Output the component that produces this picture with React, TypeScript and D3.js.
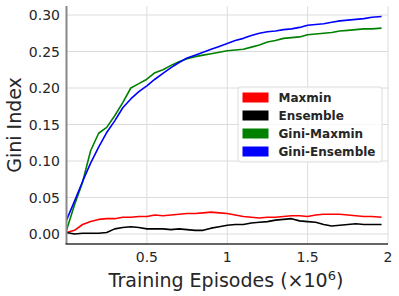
import * as d3 from "d3";

const episodes = [
  0, 0.05, 0.1, 0.15, 0.2, 0.25, 0.3, 0.35, 0.4, 0.45, 0.5, 0.55, 0.6, 0.65, 0.7, 0.75, 0.8, 0.85,
  0.9, 0.95, 1.0, 1.05, 1.1, 1.15, 1.2, 1.25, 1.3, 1.35, 1.4, 1.45, 1.5, 1.55, 1.6, 1.65, 1.7,
  1.75, 1.8, 1.85, 1.9, 1.96,
];

const maxmin = [
  0.002, 0.005, 0.013, 0.017, 0.02, 0.021, 0.021, 0.023, 0.023, 0.024, 0.024, 0.026, 0.025, 0.026,
  0.027, 0.028, 0.028, 0.029, 0.03, 0.029, 0.028, 0.026, 0.024, 0.023, 0.022, 0.023, 0.023, 0.024,
  0.025, 0.025, 0.024, 0.026, 0.027, 0.027, 0.027, 0.026, 0.025, 0.024, 0.024, 0.023,
];

const ensemble = [
  0.002, 0.0, 0.001, 0.001, 0.001, 0.002, 0.007, 0.009, 0.01, 0.009, 0.007, 0.007, 0.007, 0.006,
  0.007, 0.006, 0.005, 0.005, 0.008, 0.01, 0.012, 0.013, 0.013, 0.015, 0.016, 0.017, 0.019, 0.02,
  0.021, 0.018, 0.017, 0.016, 0.013, 0.011, 0.012, 0.013, 0.014, 0.013, 0.013, 0.013,
];

const giniMaxmin = [
  0.005, 0.04, 0.071, 0.114, 0.138, 0.146, 0.162, 0.18, 0.2, 0.206, 0.212, 0.221, 0.225, 0.231,
  0.236, 0.24, 0.243, 0.245, 0.247, 0.249, 0.251, 0.252, 0.253, 0.256, 0.259, 0.263, 0.265, 0.268,
  0.269, 0.27, 0.273, 0.274, 0.275, 0.276, 0.278, 0.279, 0.28, 0.281, 0.281, 0.282,
];

const giniEnsemble = [
  0.019, 0.045, 0.072, 0.097, 0.119, 0.139, 0.155, 0.173, 0.185, 0.195, 0.203, 0.212, 0.22, 0.228,
  0.235, 0.241, 0.245, 0.249, 0.253, 0.257, 0.261, 0.265, 0.268, 0.272, 0.275, 0.277, 0.278, 0.28,
  0.281, 0.283, 0.286, 0.287, 0.288, 0.29, 0.292, 0.293, 0.294, 0.295, 0.297, 0.298,
];

const series = [
  { label: "Maxmin", color: "#ff0000", values: maxmin },
  { label: "Ensemble", color: "#000000", values: ensemble },
  { label: "Gini-Maxmin", color: "#008000", values: giniMaxmin },
  { label: "Gini-Ensemble", color: "#0000ff", values: giniEnsemble },
];

const xTicks = [0.5, 1, 1.5, 2];
const yTicks = [0, 0.05, 0.1, 0.15, 0.2, 0.25, 0.3];

const W = 399;
const H = 296;
const left = 66.5;
const right = 388;
const top = 6;
const bottom = 244;

const font = "DejaVu Sans, sans-serif";

export default function App() {
  const x = d3.scaleLinear().domain([0, 2]).range([left, right]);
  const y = d3.scaleLinear().domain([0, 0.3]).range([234, 15]);

  const line = (vals: number[]) =>
    d3
      .line<number>()
      .x((_, i) => x(episodes[i]))
      .y((d) => y(d))(vals) ?? "";

  const legendX = 238;
  const legendY = 87;

  return (
    <svg
      width={W}
      height={H}
      style={{ position: "absolute", left: 0, top: 0, background: "#fff" }}
      fontFamily={font}
    >
      {/* grid */}
      {yTicks.map((t) => (
        <line key={"gy" + t} x1={left} x2={right} y1={y(t)} y2={y(t)} stroke="#dcdcdc" strokeWidth={1} />
      ))}
      {xTicks.map((t) => (
        <line key={"gx" + t} x1={x(t)} x2={x(t)} y1={top} y2={bottom} stroke="#dcdcdc" strokeWidth={1} />
      ))}

      {/* lines */}
      {series.map((s) => (
        <path
          key={s.label}
          d={line(s.values)}
          fill="none"
          stroke={s.color}
          strokeWidth={1.6}
          strokeLinejoin="round"
        />
      ))}

      {/* spines */}
      <line x1={left} x2={left} y1={top} y2={bottom} stroke="#888" strokeWidth={2} />
      <line x1={left - 1} x2={right} y1={bottom} y2={bottom} stroke="#333" strokeWidth={1.6} />

      {/* tick labels */}
      {yTicks.map((t) => (
        <text
          key={"ty" + t}
          x={60}
          y={y(t)}
          dy="0.36em"
          textAnchor="end"
          fontSize={14}
          fill="#262626"
        >
          {t.toFixed(2)}
        </text>
      ))}
      {xTicks.map((t) => (
        <text
          key={"tx" + t}
          x={x(t)}
          y={257}
          dy="0.36em"
          textAnchor="middle"
          fontSize={14}
          fill="#262626"
        >
          {String(t)}
        </text>
      ))}

      {/* axis labels */}
      <text
        transform={`translate(21,125) rotate(-90)`}
        textAnchor="middle"
        fontSize={19}
        fill="#262626"
      >
        Gini Index
      </text>
      <text x={226} y={287} textAnchor="middle" fontSize={19} fill="#262626">
        Training Episodes (×10
        <tspan dy={-7} fontSize={13}>
          6
        </tspan>
        <tspan dy={7}>)</tspan>
      </text>

      {/* legend */}
      <rect
        x={legendX}
        y={legendY}
        width={144}
        height={75}
        rx={2.5}
        fill="#fff"
        fillOpacity={0.8}
        stroke="#dcdcdc"
        strokeWidth={1}
      />
      {series.map((s, i) => (
        <g key={"lg" + s.label} transform={`translate(${legendX + 4.5},${legendY + 10.5 + i * 18})`}>
          <rect x={0} y={-5} width={26} height={10} fill={s.color} />
          <text x={36} y={0} dy="0.36em" fontSize={12} fontWeight="bold" fill="#262626">
            {s.label}
          </text>
        </g>
      ))}
    </svg>
  );
}
